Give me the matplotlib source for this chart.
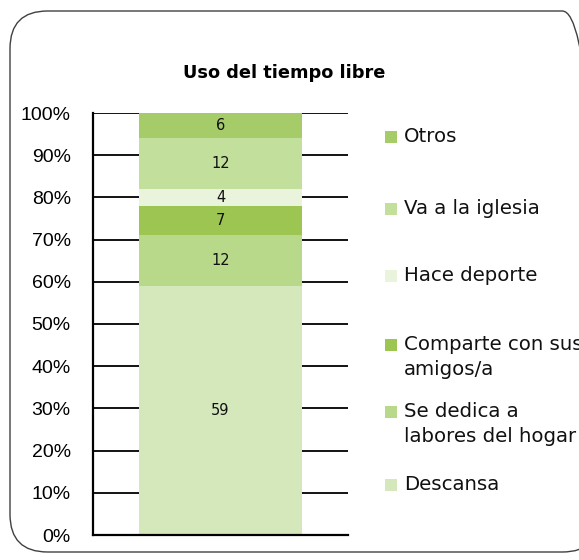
import matplotlib.pyplot as plt
from matplotlib.patches import FancyBboxPatch, Rectangle

# categories bottom -> top
categories = ["Descansa", "Se dedica a\nlabores del hogar", "Comparte con sus\namigos/a",
              "Hace deporte", "Va a la iglesia", "Otros"]
values = [59, 12, 7, 4, 12, 6]
colors = ["#d4e8bc", "#b8d88a", "#9cc552", "#eaf3dc", "#c2df9b", "#a6cc6a"]
tick_labels = ["0%", "10%", "20%", "30%", "40%", "50%", "60%", "70%", "80%", "90%", "100%"]

W, H = 579, 560
fig = plt.figure(figsize=(W / 100, H / 100), dpi=100)

# rounded chart border
border = FancyBboxPatch((10 / W, 1 - 552 / H), (600 - 10) / W, (552 - 11) / H,
                        boxstyle="round,pad=0,rounding_size=0.065",
                        transform=fig.transFigure, facecolor="none",
                        edgecolor="#404040", linewidth=1.0, mutation_aspect=W / H,
                        zorder=-1)
fig.patches.append(border)

ax = fig.add_axes([93 / W, 1 - 535 / H, (348 - 93) / W, (535 - 113) / H])
ax.set_facecolor("none")

total = sum(values)
bottom = 0
for cat, v, c in zip(categories, values, colors):
    pct = v / total * 100
    ax.bar(0, pct, width=0.643, bottom=bottom, color=c, zorder=3)
    ax.text(0, bottom + pct / 2, str(v), ha="center", va="center",
            fontsize=10.5, family="DejaVu Sans", color="#111111", zorder=4)
    bottom += pct

ax.set_xlim(-0.5, 0.5)
ax.set_ylim(0, 100)
ax.set_yticks(range(0, 101, 10))
ax.set_yticklabels(tick_labels, family="Liberation Sans", fontsize=14)
ax.set_xticks([])
ax.tick_params(axis="y", length=0, pad=16)
ax.grid(axis="y", color="black", linewidth=1.3, zorder=1)
for s in ["top", "right"]:
    ax.spines[s].set_visible(False)
for s in ["left", "bottom"]:
    ax.spines[s].set_linewidth(1.6)
    ax.spines[s].set_zorder(5)

fig.text(284 / W, 1 - 73 / H, "Uso del tiempo libre", ha="center", va="center",
         fontsize=12.8, fontweight="bold", family="DejaVu Sans")

# legend, top entry first
legend_y = [485, 412, 345, 276, 209, 137]
for cat, c, y in zip(categories, colors, legend_y):
    fig.patches.append(Rectangle((385 / W, 1 - (y + 6) / H), 12 / W, 12 / H,
                                 transform=fig.transFigure, facecolor=c, edgecolor="none"))
    fig.text(404 / W, 1 - (y - 10) / H, cat, ha="left", va="top", fontsize=14.2,
             family="DejaVu Sans", linespacing=1.42, color="#111111")

fig.savefig("out.png", dpi=100)
